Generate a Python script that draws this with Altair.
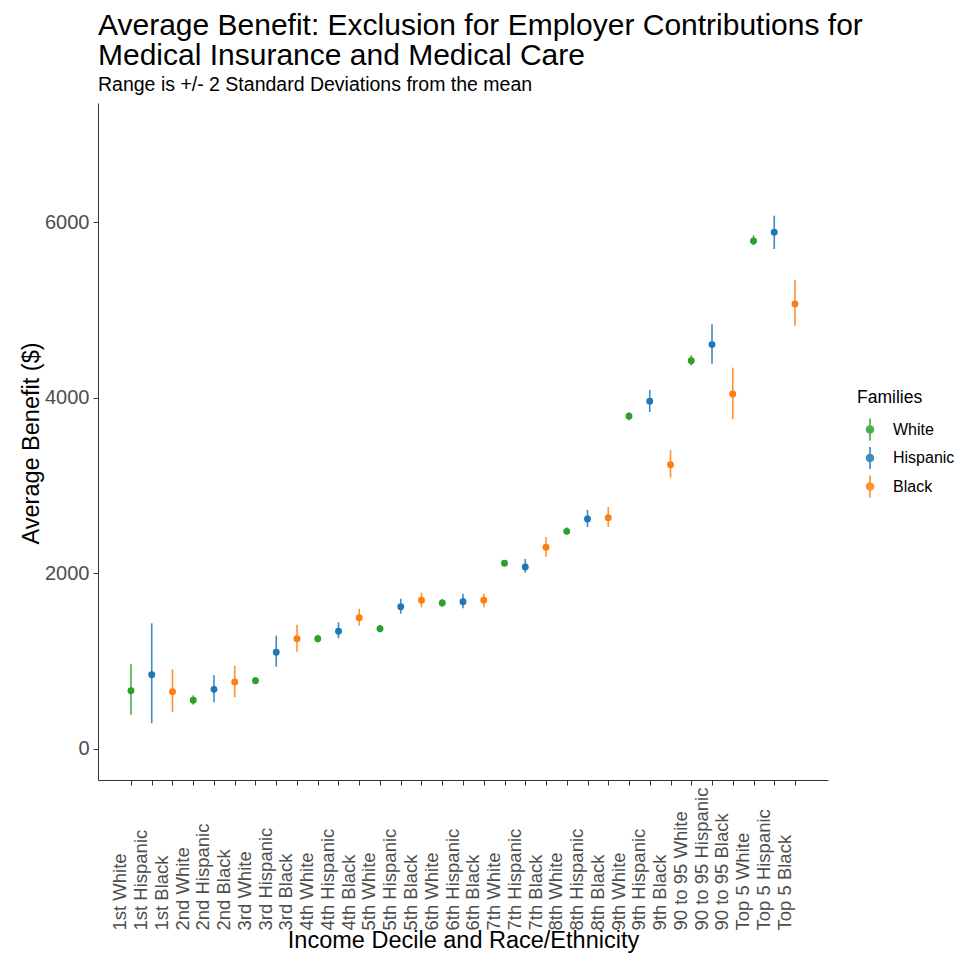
import json
import altair as alt
import pandas as pd

categories = ["1st White", "1st Hispanic", "1st Black", "2nd White", "2nd Hispanic", "2nd Black",
              "3rd White", "3rd Hispanic", "3rd Black", "4th White", "4th Hispanic", "4th Black",
              "5th White", "5th Hispanic", "5th Black", "6th White", "6th Hispanic", "6th Black",
              "7th White", "7th Hispanic", "7th Black", "8th White", "8th Hispanic", "8th Black",
              "9th White", "9th Hispanic", "9th Black", "90 to 95 White", "90 to 95 Hispanic",
              "90 to 95 Black", "Top 5 White", "Top 5 Hispanic", "Top 5 Black"]
race = ["White", "Hispanic", "Black"] * 11
mean_benefit = [664, 846, 653, 554, 679, 763, 778, 1101, 1256, 1256, 1340, 1495, 1370, 1620, 1693,
                1662, 1677, 1693, 2114, 2072, 2296, 2478, 2619, 2634, 3788, 3959, 3237, 4421, 4604,
                4042, 5784, 5883, 5067]
low_benefit = [391, 292, 418, 505, 531, 588, 740, 937, 1108, 1215, 1260, 1404, 1328, 1540, 1613,
               1620, 1602, 1613, 2087, 2008, 2190, 2440, 2528, 2528, 3742, 3837, 3089, 4364, 4387,
               3754, 5738, 5693, 4820]
high_benefit = [964, 1431, 907, 611, 839, 949, 816, 1290, 1416, 1301, 1442, 1597, 1416, 1711, 1780,
                1708, 1768, 1768, 2140, 2163, 2414, 2524, 2721, 2755, 3834, 4087, 3404, 4482, 4836,
                4342, 5849, 6072, 5340]
families = ["White", "Hispanic", "Black"]
family_colors = ["#2ca02c", "#1f77b4", "#ff7f0e"]
y_ticks = [0, 2000, 4000, 6000]

positions = list(range(len(categories)))
df = pd.DataFrame({"pos": positions, "group": categories, "race": race, "mean": mean_benefit,
                   "low": low_benefit, "high": high_benefit})

FONT = "Liberation Sans"
color_scale = alt.Scale(domain=families, range=family_colors)
legend_symbol = ("M-0.065,-0.85L0.065,-0.85L0.065,0.85L-0.065,0.85Z "
                 "M0.33,0A0.33,0.33 0 1,1 -0.33,0A0.33,0.33 0 1,1 0.33,0Z")

pad = 1.59
x_scale = alt.Scale(domain=[-pad, len(categories) - 1 + pad], nice=False, zero=False)
x_axis = alt.Axis(title="Income Decile and Race/Ethnicity", values=positions, grid=False,
                  labelExpr=json.dumps(categories) + "[datum.value]",
                  labelAngle=270, labelAlign="left", labelBaseline="middle",
                  labelPadding=145, labelOffset=-11, labelOverlap=False, labelFlush=False,
                  labelFontSize=18.5, labelColor="#4d4d4d", labelFont=FONT,
                  tickSize=5, tickColor="#333333", domainColor="#333333",
                  titleFontSize=23.5, titleFont=FONT, titleFontWeight="normal",
                  titleColor="black", titleX=365, titleY=167,
                  titleAlign="center", titleBaseline="alphabetic")
y_scale = alt.Scale(domain=[-353, 7355], nice=False, zero=False)
y_axis = alt.Axis(title="Average Benefit ($)", values=y_ticks, grid=False, format="d",
                  labelFontSize=20, labelColor="#4d4d4d", labelFont=FONT, labelPadding=4,
                  tickSize=5, tickColor="#333333", domainColor="#333333",
                  titleFontSize=23.5, titleFont=FONT, titleFontWeight="normal", titleColor="black",
                  titleX=-67, titleY=340, titleAngle=270, titleAlign="center",
                  titleBaseline="middle")
legend = alt.Legend(title="Families", orient="none", legendX=759, legendY=286,
                    symbolType=legend_symbol, symbolSize=676,
                    symbolStrokeWidth=0, padding=0, rowPadding=3.5,
                    titleFontSize=17.5, titleFont=FONT, titleFontWeight="normal",
                    titleColor="black", titlePadding=10,
                    labelFontSize=16, labelFont=FONT, labelColor="black",
                    labelOffset=10)

bars = alt.Chart(df).mark_rule(strokeWidth=1.6, opacity=0.85).encode(
    x=alt.X("pos:Q", scale=x_scale, axis=x_axis),
    y=alt.Y("low:Q", scale=y_scale, axis=y_axis),
    y2="high:Q",
    color=alt.Color("race:N", scale=color_scale, legend=legend),
)

points = alt.Chart(df).mark_point(filled=True, size=48, opacity=1).encode(
    x=alt.X("pos:Q", scale=x_scale, axis=x_axis),
    y=alt.Y("mean:Q", scale=y_scale, axis=y_axis),
    color=alt.Color("race:N", scale=color_scale, legend=legend),
)

chart = alt.layer(bars, points).properties(
    width=730, height=677,
    background="white",
    autosize=alt.AutoSizeParams(type="none"),
    padding={"left": 90, "top": 95, "right": 130, "bottom": 175},
    title=alt.TitleParams(
        text=["Average Benefit: Exclusion for Employer Contributions for",
              "Medical Insurance and Medical Care"],
        subtitle="Range is +/- 2 Standard Deviations from the mean",
        anchor="start", frame="group", font=FONT, fontSize=30, fontWeight="normal",
        color="black", lineHeight=30, subtitleFont=FONT, subtitleFontSize=19.5,
        subtitleColor="black", subtitlePadding=5, offset=9),
).configure_view(stroke=None, strokeWidth=0)

chart.save("out.html", embed_options={"renderer": "svg", "actions": False})
